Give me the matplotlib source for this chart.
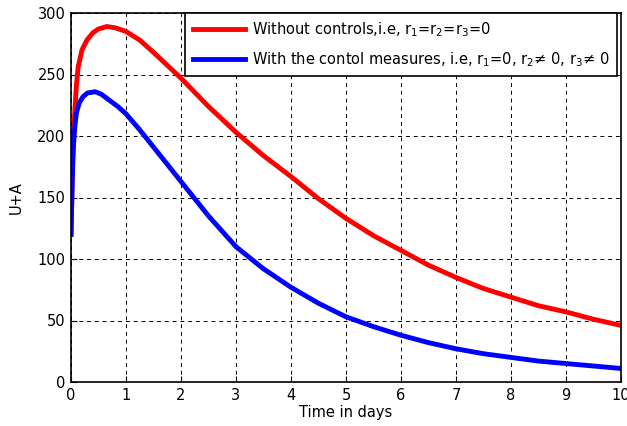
import matplotlib
matplotlib.use('Agg')
import matplotlib.pyplot as plt

# values
t_red = [0, 0.03, 0.07, 0.1, 0.13, 0.2, 0.29, 0.4, 0.5, 0.65, 0.8, 1.0, 1.25, 1.5, 2.0, 2.5, 3.0,
         3.5, 4.0, 4.5, 5.0, 5.5, 6.0, 6.5, 7.0, 7.5, 8.0, 8.5, 9.0, 9.5, 10.0]
u_red = [120, 180, 221, 242, 256, 270, 278, 284, 287, 289, 288, 285, 278, 268, 247, 224, 203,
         184, 167, 149, 133, 119, 107, 95, 85, 76, 69, 62, 57, 51, 46]

t_blue = [0, 0.02, 0.04, 0.07, 0.1, 0.15, 0.22, 0.3, 0.44, 0.55, 0.7, 0.85, 1.0, 1.25, 1.5, 2.0,
          2.5, 3.0, 3.5, 4.0, 4.5, 5.0, 5.5, 6.0, 6.5, 7.0, 7.5, 8.0, 8.5, 9.0, 9.5, 10.0]
u_blue = [120, 160, 189, 208, 219, 227, 232, 235, 236, 234, 229, 224, 218, 205, 191, 163,
          135, 110, 92, 77, 64, 53, 45, 38, 32, 27, 23, 20, 17, 15, 13, 11]

labels = ['Without controls,i.e, r$_1$=r$_2$=r$_3$=0',
          'With the contol measures, i.e, r$_1$=0, r$_2$\u2260 0, r$_3$\u2260 0']

plt.rcParams['font.family'] = 'DejaVu Sans'
plt.rcParams['font.size'] = 10
plt.rcParams['mathtext.fontset'] = 'dejavusans'
plt.rcParams['mathtext.default'] = 'regular'

fig = plt.figure(figsize=(6.27, 4.26), dpi=100)
ax = fig.add_axes([71/627, 1 - 382/426, 550/627, 369/426])

ax.plot(t_red, u_red, color='red', lw=3.5, label=labels[0])
ax.plot(t_blue, u_blue, color='blue', lw=3.5, label=labels[1])

ax.set_xlim(0, 10)
ax.set_ylim(0, 300)
ax.set_xticks(range(0, 11))
ax.set_yticks(range(0, 301, 50))
ax.tick_params(direction='in', length=4, labelsize=10.5, pad=4)
ax.grid(True, color='black', linestyle=(0, (4, 4)), lw=0.7)
for s in ax.spines.values():
    s.set_linewidth(1.2)

ax.set_xlabel('Time in days', fontsize=10.5, labelpad=2)
ax.set_ylabel('U+A', fontsize=10.5, labelpad=10)

leg = ax.legend(loc='upper right', bbox_to_anchor=(0.993, 1.0), fontsize=10.5,
                fancybox=False, framealpha=1, edgecolor='black',
                handlelength=3.6, handletextpad=0.5, borderaxespad=0.0,
                borderpad=0.5, labelspacing=0.75)
leg.get_frame().set_linewidth(1.2)

fig.savefig('out.png', dpi=100)
